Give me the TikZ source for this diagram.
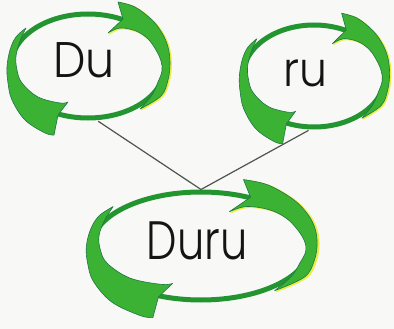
\documentclass[tikz,border=0pt]{standalone}
\usepackage{fontspec}
\setmainfont{Poppins Light}
\usetikzlibrary{shapes.geometric}
\definecolor{grn}{RGB}{60,178,52}
\definecolor{grnline}{RGB}{34,148,48}
\definecolor{grnedge}{RGB}{30,118,72}
\definecolor{ylw}{RGB}{236,236,70}
\definecolor{paper}{RGB}{248,248,246}
\definecolor{connc}{RGB}{78,84,78}
\tikzset{
  loopring/.style={ellipse, draw=grnline, line width=5pt, inner sep=0pt},
  wedge/.style={fill=grn, draw=grnedge, line width=0.6pt, line join=round},
  glow/.style={fill=ylw, draw=ylw, line width=1.2pt, line join=round},
  lbl/.style={inner sep=0pt, text=black!92},
  connline/.style={draw=connc, line width=1.2pt, shorten <=2pt},
}
\newcommand\wedgeshapeA{plot[smooth, tension=.6] coordinates {(30,64) (47,59) (64,46) (74,33) (80,19) (82,3) (80,-14) (73,-30) (52,-43)}
    -- plot[smooth, tension=.6] coordinates {(52,-43) (64,-29) (70,-16) (74,-5) (73,5) (68,16) (60,27) (48,35) (32,38) (20,33)}
    -- (35,47) -- cycle}
\newcommand\wedgeshapeB{plot[smooth, tension=.6] coordinates {(-34,-69) (-43,-67) (-63,-54) (-76,-34) (-80,-17) (-81,-1) (-78,16) (-72,29) (-62,38)}
    -- plot[smooth, tension=.6] coordinates {(-62,38) (-68,25) (-72,10) (-71,-4) (-66,-17) (-50,-31) (-28,-37) (-20,-36)}
    -- (-30,-49) -- cycle}
\newcommand\wedgepair{%
  \path[glow, shift={(1.3pt,0.8pt)}] \wedgeshapeA;
  \path[wedge] \wedgeshapeA;
  \path[wedge] \wedgeshapeB;}
\begin{document}
\begin{tikzpicture}[x=1pt,y=-1pt]
  \fill[paper] (0,0) rectangle (394,329);
  \useasboundingbox (0,0) rectangle (394,329);
  % rings
  \node[loopring, minimum width=154pt, minimum height=104pt] (du) at (88,66) {};
  \node[loopring, minimum width=142pt, minimum height=102pt] (ru) at (314,76) {};
  \node[loopring, minimum width=218pt, minimum height=108pt] (duru) at (201,246) {};
  % connectors
  \draw[connline] (du.-81) -- (duru.north);
  \draw[connline] (ru.-94) -- (duru.north);
  % arrow wedges
  \begin{scope}[shift={(88,66)}, yscale=-1]
    \wedgepair
  \end{scope}
  \begin{scope}[shift={(314,76)}, xscale=0.922, yscale=-0.98]
    \wedgepair
  \end{scope}
  \begin{scope}[shift={(201,246)}, xscale=1.416, yscale=-1.038]
    \wedgepair
  \end{scope}
  % labels
  \node[lbl, font=\fontsize{50}{50}\selectfont] (dut) at (84,60) {\scalebox{0.92}[1]{Du}};
  \node[lbl, font=\fontsize{48}{48}\selectfont] (rut) at (305,73) {\scalebox{0.92}[1]{ru}};
  \node[lbl, font=\fontsize{54}{54}\selectfont] (durut) at (197,241) {\scalebox{0.8}[1]{Duru}};
\end{tikzpicture}
\end{document}
